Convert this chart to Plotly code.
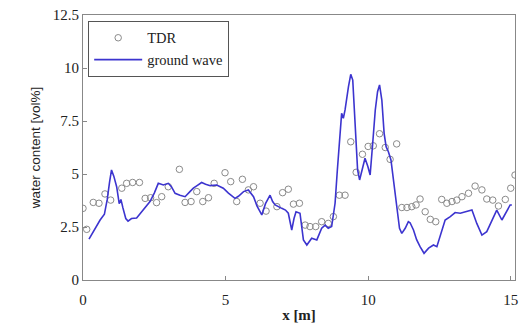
import plotly.graph_objects as go

# ground wave line
gw_x = [0.21, 0.4, 0.6, 0.75, 0.85, 0.93, 1.0, 1.08, 1.18, 1.27, 1.33, 1.4, 1.5, 1.58, 1.7, 1.88,
        2.1, 2.35, 2.5, 2.64, 2.82, 2.99, 3.1, 3.23, 3.4, 3.58, 3.75, 3.87, 4.0, 4.16, 4.3, 4.46,
        4.69, 4.92, 5.1, 5.33, 5.45, 5.63, 5.8, 5.98, 6.1, 6.27, 6.4, 6.56, 6.65, 6.74, 6.97, 7.1,
        7.2, 7.32, 7.4, 7.47, 7.61, 7.73, 7.85, 8.02, 8.2, 8.37, 8.49, 8.6, 8.72, 8.84, 8.92, 9.02,
        9.07, 9.13, 9.19, 9.31, 9.39, 9.46, 9.54, 9.63, 9.7, 9.78, 9.89, 9.99, 10.07, 10.16, 10.25,
        10.33, 10.4, 10.48, 10.56, 10.63, 10.71, 10.8, 10.89, 11.0, 11.1, 11.18, 11.3, 11.41, 11.47,
        11.59, 11.7, 11.82, 11.96, 12.12, 12.29, 12.41, 12.58, 12.7, 12.88, 13.05, 13.23, 13.46,
        13.64, 13.81, 13.99, 14.16, 14.4, 14.51, 14.69, 14.84, 14.98, 15.04]
gw_y = [1.93, 2.4, 2.83, 3.1, 3.8, 4.6, 5.19, 4.9, 4.4, 3.6, 3.8, 3.4, 2.9, 2.78, 2.9, 2.92,
        3.3, 3.7, 4.1, 4.56, 4.48, 4.56, 4.4, 4.09, 4.0, 3.93, 4.17, 4.33, 4.45, 4.6, 4.52, 4.45,
        4.48, 4.33, 4.1, 3.85, 3.95, 4.17, 4.25, 3.93, 3.5, 3.07, 3.6, 4.0, 3.7, 3.54, 3.38, 3.3,
        3.15, 2.36, 2.9, 3.22, 3.15, 1.89, 1.65, 1.97, 1.89, 2.44, 2.59, 2.44, 2.52, 3.62, 5.19, 7.23,
        7.86, 7.63, 8.02, 9.12, 9.7, 9.43, 7.23, 5.19, 4.72, 5.19, 5.74, 5.35, 4.95, 6.45, 8.02,
        8.88, 9.2, 8.49, 6.92, 6.29, 6.05, 5.66, 4.72, 3.3, 2.44, 2.2, 2.44, 2.75, 2.7,
        2.36, 1.9, 1.57, 1.26, 1.5, 1.65, 1.57, 2.36, 2.83, 2.99, 3.18, 3.15, 3.22,
        3.3, 2.67, 2.12, 2.28, 2.99, 3.3, 2.83, 3.22, 3.54, 3.54]

# TDR measurements
tdr_x = [0.0, 0.13, 0.36, 0.56, 0.77, 0.97, 1.36, 1.53, 1.74, 1.98, 2.18, 2.37, 2.58, 2.76, 2.99,
         3.38, 3.58, 3.79, 3.99, 4.2, 4.4, 4.6, 4.98, 5.18, 5.39, 5.59, 5.8, 5.98, 6.21, 6.42,
         6.8, 7.0, 7.2, 7.38, 7.59, 7.79, 7.96, 8.16, 8.37, 8.6, 8.78, 8.99, 9.19, 9.39, 9.58,
         9.8, 10.0, 10.18, 10.4, 10.6, 10.77, 11.0, 11.18, 11.36, 11.53, 11.68, 11.82, 12.0,
         12.18, 12.37, 12.58, 12.76, 12.94, 13.11, 13.29, 13.52, 13.75, 13.99, 14.16, 14.37,
         14.57, 14.81, 15.0, 15.15]
tdr_y = [3.38, 2.39, 3.66, 3.62, 4.06, 3.77, 4.33, 4.56, 4.6, 4.6, 3.85, 3.88, 3.65, 3.93, 4.4,
         5.22, 3.66, 3.7, 4.17, 3.7, 3.88, 4.56, 5.06, 4.64, 3.7, 4.75, 4.25, 4.4, 3.62, 3.25,
         3.46, 4.12, 4.28, 3.58, 3.62, 2.59, 2.52, 2.52, 2.75, 2.67, 2.99, 4.0, 4.0, 6.52, 5.08,
         5.93, 6.3, 6.33, 6.9, 6.25, 5.69, 6.42, 3.42, 3.42, 3.46, 3.54, 3.82, 3.22,
         2.86, 2.75, 3.8, 3.62, 3.7, 3.77, 3.93, 4.09, 4.43, 4.25, 3.82, 3.77,
         3.49, 3.8, 4.33, 4.95]

x_ticks = [0, 5, 10, 15]
y_ticks = [0, 2.5, 5, 7.5, 10, 12.5]
y_tick_labels = ["0", "2.5", "5", "7.5", "10", "12.5"]

fig = go.Figure()
fig.add_trace(go.Scatter(
    x=tdr_x, y=tdr_y, mode="markers", name="TDR",
    marker=dict(symbol="circle-open", size=6.5, color="#8a8a8a", line=dict(width=1)),
))
fig.add_trace(go.Scatter(
    x=gw_x, y=gw_y, mode="lines", name="ground wave",
    line=dict(color="#3c34cf", width=1.6),
))

serif = "Liberation Serif, Times New Roman, serif"
fig.update_layout(
    width=529, height=324,
    margin=dict(l=83, r=14, t=15, b=44, autoexpand=False),
    plot_bgcolor="white", paper_bgcolor="white",
    font=dict(family=serif, size=15, color="#222"),
    legend=dict(
        x=0.012, y=0.978, xanchor="left", yanchor="top",
        bgcolor="white", bordercolor="#555", borderwidth=1,
        font=dict(family=serif, size=14.5, color="#222"),
        itemwidth=48, tracegroupgap=0,
    ),
    showlegend=True,
)
fig.update_xaxes(
    range=[0, 15.15], tickvals=x_ticks, ticktext=[str(v) for v in x_ticks],
    showgrid=False, zeroline=False, showline=True, linecolor="#888", linewidth=1,
    mirror=True, ticks="inside", ticklen=4, tickcolor="#888", ticklabelstandoff=6,
    automargin=False,
    title=dict(text="<b>x [m]</b>", font=dict(family=serif, size=15), standoff=2),
)
fig.update_yaxes(
    range=[0, 12.5], tickvals=y_ticks, ticktext=y_tick_labels,
    showgrid=False, zeroline=False, showline=True, linecolor="#888", linewidth=1,
    mirror=True, ticks="inside", ticklen=4, tickcolor="#888",
    automargin=False,
    title=dict(text="water content [vol%]", font=dict(family="Liberation Sans, Arial, sans-serif", size=13.5), standoff=9),
)

fig.write_html("out.html", config={"displayModeBar": False},
               post_script="document.body.style.margin='0';")
